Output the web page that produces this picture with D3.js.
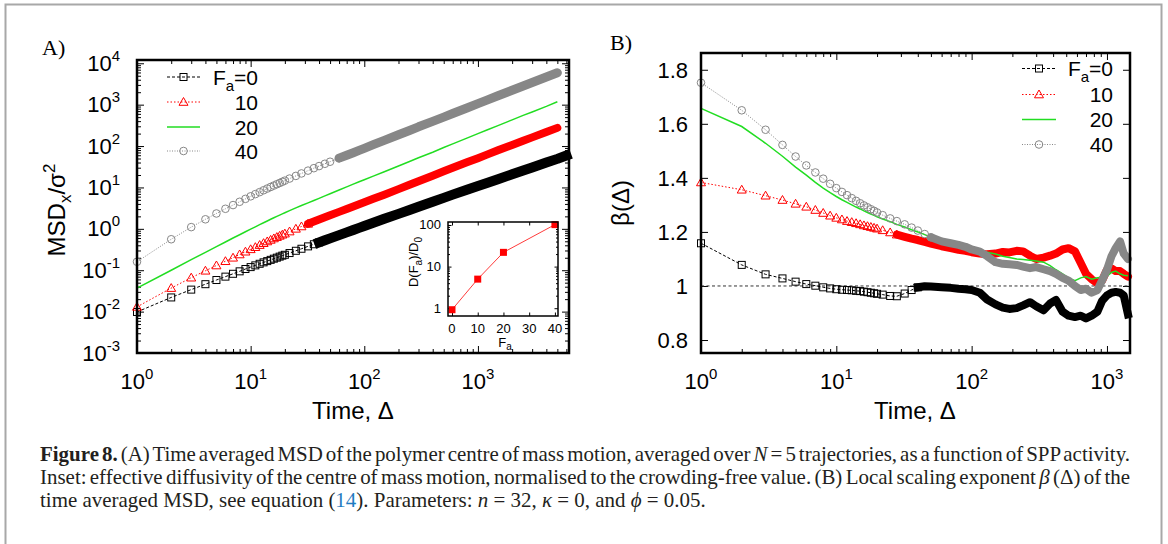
<!doctype html>
<html lang="en">
<head>
<meta charset="UTF-8">
<title>Figure 8</title>
<style>
  body{ margin:0; background:#fff; }
  svg{ display:block; font-family:"Liberation Sans", Arial, sans-serif; }
  .tick text{ display:none; }
  .domain{ display:none; }
  .caption text{ font-family:"Liberation Serif", "Times New Roman", serif; fill:#231f20; }
</style>
</head>
<body>
<script src="https://d3js.org/d3.v7.min.js"></script>
<script>
// ---- panel A : time averaged MSD (log-log) ----
var timeA = [1,2,3,4,5,6,7,8,9,10,11,12,13,14,15,16,17,18,19,20,22,25,28,32,36,40,45,50,60,70,80,90,100,120,150,200,250,300,400,500,600,800,1000,1200,1500,2000,2500,3000,4000,5000,6000];
var msdF0  = [0.0098,0.022,0.034,0.046,0.058,0.07,0.082,0.094,0.107,0.119,0.131,0.143,0.155,0.166,0.178,0.19,0.201,0.213,0.225,0.236,0.26,0.295,0.33,0.377,0.424,0.47,0.53,0.59,0.705,0.82,0.94,1.055,1.17,1.4,1.75,2.3,2.85,3.4,4.5,5.6,6.7,8.8,10.8,12.8,15.8,20.8,25.7,30.5,40,49,59];
var msdF10 = [0.013,0.037,0.066,0.097,0.13,0.165,0.2,0.24,0.28,0.32,0.36,0.405,0.45,0.495,0.54,0.585,0.63,0.675,0.72,0.765,0.86,1.0,1.14,1.32,1.5,1.68,1.9,2.12,2.57,3.02,3.47,3.92,4.37,5.3,6.7,9.1,11.6,14.1,19.2,24.5,29.8,40.5,51,62,79,106,134,162,218,275,null];
var msdF20 = [0.037,0.1,0.18,0.27,0.37,0.48,0.6,0.72,0.85,0.98,1.12,1.26,1.4,1.55,1.7,1.85,2.0,2.15,2.3,2.45,2.75,3.2,3.65,4.25,4.85,5.45,6.25,7.05,8.7,10.3,12,13.7,15.4,18.8,24,33,42.5,52,71,92,113,155,200,245,312,430,550,665,910,1180,null];
var msdF40 = [0.16,0.56,1.1,1.7,2.35,3.05,3.75,4.5,5.3,6.1,6.9,7.7,8.55,9.4,10.25,11.1,11.95,12.8,13.7,14.6,16.4,19,21.8,25.5,29.2,32.8,37.3,41.8,51,60,69,78.5,88,108,137,188,238,292,395,500,610,830,1060,1290,1640,2230,2820,3420,4650,5900,null];

// ---- panel B : local scaling exponent ----
var timeB = [1,2,3,4,5,6,7,8,9,10,11,12,13,14,15,16,17,18,19,20,22,25,28,32,36,40,45,50,60,70,80,90,100,115,130,150,170,190,215,240,270,300,340,380,420,470,520,580,640,700,770,850,920,1000,1080,1160,1250,1330,1430];
var betaF0  = [1.158,1.078,1.043,1.028,1.016,1.007,1.001,0.995,0.991,0.988,0.986,0.985,0.984,0.982,0.981,0.979,0.977,0.975,0.973,0.971,0.968,0.963,0.962,0.972,0.985,0.995,0.999,0.998,0.995,0.993,0.99,0.988,0.985,0.975,0.95,0.932,0.92,0.915,0.918,0.928,0.94,0.925,0.91,0.935,0.948,0.905,0.89,0.885,0.89,0.88,0.89,0.905,0.945,0.965,0.975,0.978,0.975,0.965,0.895];
var betaF10 = [1.383,1.356,1.334,1.318,1.304,1.293,1.281,1.27,1.26,1.252,1.246,1.24,1.236,1.232,1.228,1.224,1.221,1.218,1.215,1.212,1.206,1.198,1.19,1.182,1.175,1.17,1.163,1.157,1.147,1.14,1.134,1.13,1.125,1.12,1.117,1.12,1.126,1.124,1.13,1.128,1.112,1.1,1.105,1.112,1.12,1.135,1.14,1.128,1.085,1.045,1.025,1.01,1.02,1.06,1.065,1.055,1.055,1.045,1.035];
var betaF20 = [1.657,1.59,1.528,1.48,1.44,1.41,1.383,1.362,1.345,1.331,1.319,1.309,1.3,1.292,1.285,1.278,1.272,1.266,1.261,1.256,1.248,1.238,1.228,1.218,1.208,1.2,1.19,1.18,1.165,1.155,1.147,1.14,1.135,1.13,1.125,1.118,1.11,1.105,1.1,1.098,1.095,1.092,1.088,1.075,1.06,1.045,1.03,1.02,1.03,1.035,1.025,1.03,1.032,1.036,1.05,1.055,1.045,1.04,1.038];
var betaF40 = [1.752,1.65,1.578,1.522,1.479,1.446,1.42,1.397,1.378,1.362,1.348,1.336,1.325,1.315,1.306,1.298,1.291,1.284,1.278,1.272,1.262,1.25,1.24,1.228,1.216,1.205,1.192,1.18,1.165,1.158,1.152,1.145,1.135,1.127,1.11,1.088,1.082,1.08,1.078,1.072,1.066,1.07,1.062,1.055,1.045,1.03,1.02,1.0,0.985,0.99,0.975,0.985,1.02,1.06,1.11,1.14,1.165,1.12,1.1];

// ---- inset : effective diffusivity ----
var insetFa = [0,10,20,40];
var insetD  = [0.92,5.0,22,102];

var legendLabels = ["0","10","20","40"];
var xTicksA = [1,10,100,1000], xExpA = ["0","1","2","3"];
var yTicksA = [1e-3,1e-2,1e-1,1,10,100,1000,1e4], yExpA = ["-3","-2","-1","0","1","2","3","4"];
var xTicksB = [1,10,100,1000], xExpB = ["0","1","2","3"];
var yTicksB = [0.8,1,1.2,1.4,1.6,1.8], yLabB = ["0.8","1","1.2","1.4","1.6","1.8"];
var insetXTicks = [0,10,20,30,40];
var insetYTicks = [1,10,100], insetYLab = ["1","10","100"];

var series = [
  {color:"#000000", dash:"3,2",   sym:"square",   a:msdF0,  b:betaF0,  bandA:40, bandB:40, wA:10, wB:8},
  {color:"#ff0000", dash:"1.5,2", sym:"triangle", a:msdF10, b:betaF10, bandA:32, bandB:28, wA:8,  wB:8},
  {color:"#22dd22", dash:null,    sym:null,       a:msdF20, b:betaF20},
  {color:"#878787", dash:"1,1.5", sym:"circle",   a:msdF40, b:betaF40, bandA:60, bandB:50, wA:9,  wB:8}
];

var svg = d3.select("body").append("svg").attr("width",1168).attr("height",544);

// figure border
svg.append("rect").attr("x",5.5).attr("y",4.5).attr("width",1156).attr("height",600)
   .attr("fill","none").attr("stroke","#a8a8a8").attr("stroke-width",2);

function marker(g, sym, color, x, y) {
  if (sym === "square") {
    g.append("rect").attr("x",x-3.5).attr("y",y-3.5).attr("width",7).attr("height",7)
     .attr("fill","none").attr("stroke",color).attr("stroke-width",1);
  } else if (sym === "triangle") {
    g.append("path").attr("d","M"+x+","+(y-4.5)+"L"+(x+4.5)+","+(y+3.3)+"L"+(x-4.5)+","+(y+3.3)+"Z")
     .attr("fill","none").attr("stroke",color).attr("stroke-width",1);
  } else if (sym === "circle") {
    g.append("circle").attr("cx",x).attr("cy",y).attr("r",3.8)
     .attr("fill","none").attr("stroke",color).attr("stroke-width",1);
  }
}

function powLabel(g, x, y, exp, anchor, fs) {
  var t = g.append("text").attr("x",x).attr("y",y).attr("text-anchor",anchor).style("font-size",fs+"px");
  t.append("tspan").text("10");
  t.append("tspan").attr("dy",-fs*0.45).style("font-size",(fs*0.68)+"px").text(exp);
}

function logMinor(lo, hi) {
  var out = [];
  for (var d = lo; d < hi; d *= 10)
    for (var k = 2; k <= 9; k++) if (k*d <= hi) out.push(k*d);
  return out;
}

function frameAxes(g, x, y, xMajor, xMinor, yMajor, yMinor, big, small) {
  var r = x.range(), s = y.range();
  var left = r[0], right = r[1], bottom = s[0], top = s[1];
  function put(axis, tr, vals, size) {
    g.append("g").attr("transform",tr)
     .call(axis.tickValues(vals).tickSizeInner(-size).tickSizeOuter(0).tickFormat(""))
     .selectAll(".tick line").attr("stroke","#000").attr("stroke-width",1);
  }
  put(d3.axisBottom(x), "translate(0,"+bottom+")", xMajor, big);
  put(d3.axisTop(x), "translate(0,"+top+")", xMajor, big);
  if (xMinor) { put(d3.axisBottom(x), "translate(0,"+bottom+")", xMinor, small);
                put(d3.axisTop(x), "translate(0,"+top+")", xMinor, small); }
  put(d3.axisLeft(y), "translate("+left+",0)", yMajor, big);
  put(d3.axisRight(y), "translate("+right+",0)", yMajor, big);
  if (yMinor) { put(d3.axisLeft(y), "translate("+left+",0)", yMinor, small);
                put(d3.axisRight(y), "translate("+right+",0)", yMinor, small); }
}

function drawSeries(g, xs, ys, times, which, bandKey, wKey) {
  series.forEach(function(s) {
    var pts = times.map(function(t,i){ return [t, s[which][i]]; }).filter(function(d){ return d[1] != null; });
    var line = d3.line().x(function(d){ return xs(d[0]); }).y(function(d){ return ys(d[1]); });
    var p = g.append("path").datum(pts).attr("d",line).attr("fill","none")
             .attr("stroke",s.color).attr("stroke-width", s.sym ? 1 : 1.5);
    if (s.dash) p.attr("stroke-dasharray",s.dash);
    if (!s.sym) return;
    var start = s[bandKey];
    pts.filter(function(d){ return d[0] <= start; }).forEach(function(d){
      marker(g, s.sym, s.color, xs(d[0]), ys(d[1]));
    });
    g.append("path").datum(pts.filter(function(d){ return d[0] >= start; }))
     .attr("d",line).attr("fill","none").attr("stroke",s.color)
     .attr("stroke-width",s[wKey]).attr("stroke-linejoin","round")
     .attr("stroke-linecap", s.sym === "square" ? "square" : "round");
  });
}

function legend(g, x1, x2, xText, rows) {
  series.forEach(function(s, i) {
    var y = rows[i];
    var l = g.append("line").attr("x1",x1).attr("x2",x2).attr("y1",y).attr("y2",y)
             .attr("stroke",s.color).attr("stroke-width", s.sym ? 1 : 1.5);
    if (s.dash) l.attr("stroke-dasharray",s.dash);
    if (s.sym) marker(g, s.sym, s.color, (x1+x2)/2, y);
    var t = g.append("text").attr("x",xText).attr("y",y+7.5).attr("text-anchor","end").style("font-size","21px");
    if (i === 0) {
      t.append("tspan").text("F");
      t.append("tspan").attr("dy",6).style("font-size","15px").text("a");
      t.append("tspan").attr("dy",-6).text("=" + legendLabels[i]);
    } else {
      t.text(legendLabels[i]);
    }
  });
}

// ================= Panel A =================
var xA = d3.scaleLog().domain([1,6330]).range([137,569]);
var yA = d3.scaleLog().domain([1e-3,1.2e4]).range([353,60]);
var gA = svg.append("g");

frameAxes(gA, xA, yA, xTicksA, logMinor(1,6330), yTicksA, logMinor(1e-3,1.2e4), 7, 4);
drawSeries(gA, xA, yA, timeA, "a", "bandA", "wA");
gA.append("rect").attr("x",137).attr("y",60).attr("width",432).attr("height",293)
  .attr("fill","none").attr("stroke","#000").attr("stroke-width",2.5);

xTicksA.forEach(function(v,i){ powLabel(gA, xA(v), 389, xExpA[i], "middle", 22); });
yTicksA.forEach(function(v,i){ powLabel(gA, 120, yA(v)+7.5, yExpA[i], "end", 22); });

gA.append("text").attr("x",353).attr("y",419).attr("text-anchor","middle").style("font-size","24px").text("Time, \u0394");
var ytA = gA.append("text").attr("transform","translate(65,210) rotate(-90)").attr("text-anchor","middle").style("font-size","24px");
ytA.append("tspan").text("MSD");
ytA.append("tspan").attr("dy",6).style("font-size","17px").text("x");
ytA.append("tspan").attr("dy",-6).text("/\u03c3");
ytA.append("tspan").attr("dy",-10).style("font-size","17px").text("2");

legend(gA, 167, 200, 258, [77,102,127,151]);

gA.append("text").attr("x",42).attr("y",55).style("font-family","'Liberation Serif', serif").style("font-size","22px").text("A)");

// ---- inset ----
var xI = d3.scaleLinear().domain([-1.55,41.2]).range([448,558]);
var yI = d3.scaleLog().domain([0.65,118]).range([316,222]);
var gI = svg.append("g");
gI.append("rect").attr("x",448).attr("y",222).attr("width",110).attr("height",94).attr("fill","#fff");
frameAxes(gI, xI, yI, insetXTicks, null, insetYTicks, logMinor(1,100), 3.5, 2);
var insetPts = insetFa.map(function(f,i){ return [f, insetD[i]]; });
gI.append("path").datum(insetPts)
  .attr("d", d3.line().x(function(d){ return xI(d[0]); }).y(function(d){ return yI(d[1]); }))
  .attr("fill","none").attr("stroke","#ff3b3b").attr("stroke-width",1);
gI.selectAll("rect.pt").data(insetPts).enter().append("rect").attr("class","pt")
  .attr("x",function(d){ return xI(d[0])-3.5; }).attr("y",function(d){ return yI(d[1])-3.5; })
  .attr("width",7).attr("height",7).attr("fill","#ff0000");
gI.append("rect").attr("x",448).attr("y",222).attr("width",110).attr("height",94)
  .attr("fill","none").attr("stroke","#000").attr("stroke-width",1.5);
insetXTicks.forEach(function(v){
  gI.append("text").attr("x",xI(v)).attr("y",333).attr("text-anchor","middle").style("font-size","13px").text(v);
});
insetYTicks.forEach(function(v,i){
  gI.append("text").attr("x",441).attr("y",yI(v)+4.5).attr("text-anchor","end").style("font-size","13px").text(insetYLab[i]);
});
var xtI = gI.append("text").attr("x",505).attr("y",347).attr("text-anchor","middle").style("font-size","13px");
xtI.append("tspan").text("F");
xtI.append("tspan").attr("dy",3).style("font-size","10px").text("a");
var ytI = gI.append("text").attr("transform","translate(418,262) rotate(-90)").attr("text-anchor","middle").style("font-size","13px");
ytI.append("tspan").text("D(F");
ytI.append("tspan").attr("dy",4).style("font-size","10px").text("a");
ytI.append("tspan").attr("dy",-4).text(")/D");
ytI.append("tspan").attr("dy",4).style("font-size","10px").text("0");

// ================= Panel B =================
var xB = d3.scaleLog().domain([1,1480]).range([701,1130]);
var yB = d3.scaleLinear().domain([0.752,1.862]).range([353,53]);
var gB = svg.append("g");

frameAxes(gB, xB, yB, xTicksB, logMinor(1,1480), yTicksB, null, 7, 4);
gB.append("line").attr("x1",701).attr("x2",1130).attr("y1",yB(1)).attr("y2",yB(1))
  .attr("stroke","#333").attr("stroke-width",1).attr("stroke-dasharray","3,2.5");
drawSeries(gB, xB, yB, timeB, "b", "bandB", "wB");
gB.append("rect").attr("x",701).attr("y",53).attr("width",429).attr("height",300)
  .attr("fill","none").attr("stroke","#000").attr("stroke-width",2.5);

xTicksB.forEach(function(v,i){ powLabel(gB, xB(v), 389, xExpB[i], "middle", 22); });
yTicksB.forEach(function(v,i){
  gB.append("text").attr("x",688).attr("y",yB(v)+8).attr("text-anchor","end").style("font-size","22px").text(yLabB[i]);
});
gB.append("text").attr("x",915).attr("y",419).attr("text-anchor","middle").style("font-size","24px").text("Time, \u0394");
gB.append("text").attr("transform","translate(629,203) rotate(-90)").attr("text-anchor","middle").style("font-size","24px").text("\u03b2(\u0394)");

legend(gB, 1022, 1056, 1113, [68.5,94.5,119.5,144.5]);

gB.append("text").attr("x",610).attr("y",50).style("font-family","'Liberation Serif', serif").style("font-size","22px").text("B)");

// ================= Caption =================
var capLines = [
  [{t:"Figure 8.", b:1},{t:" (A) Time averaged MSD of the polymer centre of mass motion, averaged over "},{t:"N", i:1},{t:" = 5 trajectories, as a function of SPP activity."}],
  [{t:"Inset: effective diffusivity of the centre of mass motion, normalised to the crowding-free value. (B) Local scaling exponent "},{t:"\u03b2", i:1},{t:" (\u0394) of the"}],
  [{t:"time averaged MSD, see equation ("},{t:"14", c:"#1f7cc1"},{t:"). Parameters: "},{t:"n", i:1},{t:" = 32, "},{t:"\u03ba", i:1},{t:" = 0, and "},{t:"\u03d5", i:1},{t:" = 0.05."}]
];
var capY = [461,484,507];
var cap = svg.append("g").attr("class","caption");
capLines.forEach(function(line, i) {
  var t = cap.append("text").attr("x",40).attr("y",capY[i]).style("font-size","17px");
  line.forEach(function(seg) {
    var ts = t.append("tspan").text(seg.t);
    if (seg.b) ts.style("font-weight","bold");
    if (seg.i) ts.style("font-style","italic");
    if (seg.c) ts.style("fill",seg.c);
  });
});
var capNodes = cap.selectAll("text").nodes();
var fs = 17 * 666 / capNodes[2].getComputedTextLength();
cap.selectAll("text").style("font-size", fs+"px");
[0,1].forEach(function(i) {
  var n = capNodes[i];
  var gaps = (n.textContent.match(/ /g) || []).length;
  d3.select(n).style("word-spacing", ((1090 - n.getComputedTextLength()) / gaps) + "px");
});
</script>
</body>
</html>
